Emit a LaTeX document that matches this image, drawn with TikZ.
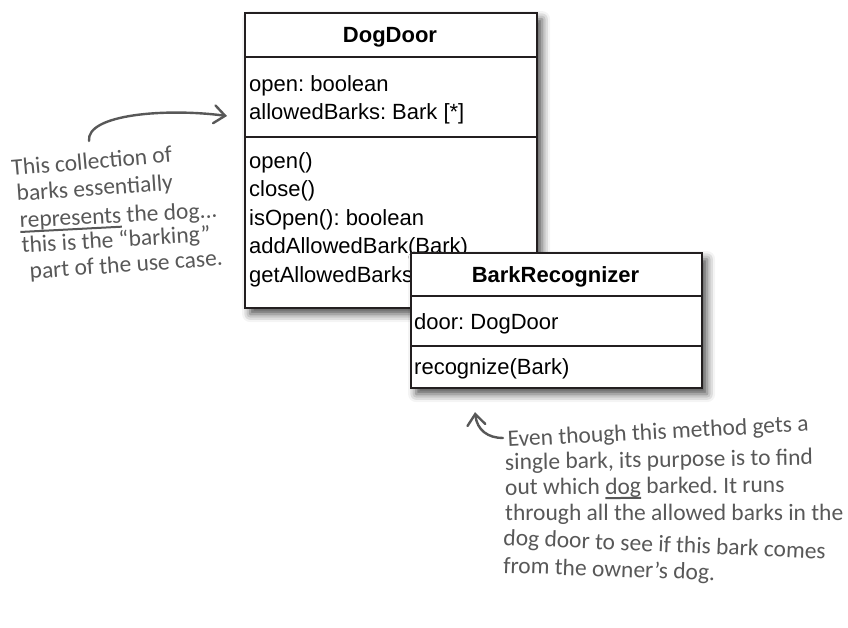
\documentclass[tikz,border=0pt]{standalone}
\usepackage{fontspec}
\setmainfont{Liberation Sans}
\newfontfamily\handfont{Carlito}
\usetikzlibrary{positioning,arrows.meta,shadows.blur}
\frenchspacing
\definecolor{umlline}{RGB}{35,31,32}
\definecolor{pencil}{RGB}{88,88,88}
% thick hand-drawn underline
\newcommand\scrawl[1]{\setbox0\hbox{#1}\rlap{\rule[-5pt]{\wd0}{2pt}}\box0\relax}
\tikzset{
  classbox/.style = {draw=umlline, line width=2.2pt, fill=white, inner sep=0pt, anchor=north west,
                     blur shadow={shadow xshift=5pt, shadow yshift=-6pt, shadow blur radius=8pt, shadow opacity=70}},
  divider/.style  = {draw=umlline, line width=1.8pt},
  cname/.style    = {font=\fontsize{22}{26}\selectfont\bfseries, anchor=base, inner sep=0pt},
  member/.style   = {font=\fontsize{22}{26}\selectfont, anchor=base west, inner sep=0pt},
  note/.style     = {font=\handfont\fontsize{23.5}{26}\selectfont, text=pencil, anchor=base west, inner sep=0pt},
  scribble/.style = {draw=pencil, line width=2.4pt, line cap=round,
                     -{Straight Barb[length=11pt,width=18pt,line cap=round]}},
}

\begin{document}
\begin{tikzpicture}[x=1pt,y=1pt]
  \useasboundingbox (0,0) rectangle (848,-627);

  % DogDoor class
  \node[classbox, minimum width=292pt, minimum height=295pt] (dogdoor) at (244,-12) {};
  \draw[divider] ([yshift=-45pt]dogdoor.north west) -- ([yshift=-45pt]dogdoor.north east);
  \draw[divider] ([yshift=-125pt]dogdoor.north west) -- ([yshift=-125pt]dogdoor.north east);
  \node[cname] (dogdoor-name) at (390,-42) {DogDoor};
  \node[member] (dd-open) at (249,-91) {open: boolean};
  \node[member] (dd-barks) at (249,-119) {allowedBarks: Bark [*]};
  \foreach \m [count=\i from 0] in {open(), close(), isOpen(): boolean, addAllowedBark(Bark), getAllowedBarks}
    \node[member] (dd-m\i) at (249,-168-28.5*\i) {\m};

  % BarkRecognizer class
  \node[classbox, minimum width=291pt, minimum height=135pt] (recognizer) at (410,-252) {};
  \draw[divider] ([yshift=-44pt]recognizer.north west) -- ([yshift=-44pt]recognizer.north east);
  \draw[divider] ([yshift=-94pt]recognizer.north west) -- ([yshift=-94pt]recognizer.north east);
  \node[cname] (recognizer-name) at (555.5,-282) {BarkRecognizer};
  \node[member] (rec-door) at (414,-329) {door: DogDoor};
  \node[member] (rec-method) at (414,-374) {recognize(Bark)};

  % note on the barks
  \node[note, rotate=5] (barks1) at (12,-176) {This collection of};
  \node[note, rotate=4] (barks2) at (17,-201) {barks essentially};
  \node[note, rotate=3] (barks3) at (20,-228) {\scrawl{represents} the dog...};
  \node[note, rotate=3.5] (barks4) at (22,-253) {this is the “barking”};
  \node[note, rotate=4] (barks5) at (30,-279) {part of the use case.};
  \coordinate (barks-tail) at ([xshift=77pt,yshift=35pt]barks1.base west);
  \coordinate (barks-tip) at ([xshift=-17pt,yshift=-104pt]dogdoor.north west);
  \draw[scribble] (barks-tail) .. controls +(-3,27) and +(-60,8) .. (barks-tip);

  % note on recognize()
  \node[note, rotate=3] (even1) at (508,-447) {Even though this method gets a};
  \node[note, rotate=1] (even2) at (505,-470) {single bark, its purpose is to find};
  \node[note, rotate=0.5] (even3) at (505,-495) {out which \scrawl{dog} barked. It runs};
  \node[note, rotate=0] (even4) at (505,-520) {through all the allowed barks in the};
  \node[note, rotate=-2.5] (even5) at (503,-545) {dog door to see if this bark comes};
  \node[note, rotate=-2] (even6) at (503,-573) {from the owner’s dog.};
  \coordinate (even-tail) at ([xshift=-5pt,yshift=9pt]even1.base west);
  \coordinate (even-tip) at ([xshift=65pt,yshift=-23pt]recognizer.south west);
  \draw[scribble] (even-tail) .. controls +(-15,0) and +(2,-18) .. (even-tip);
\end{tikzpicture}
\end{document}
